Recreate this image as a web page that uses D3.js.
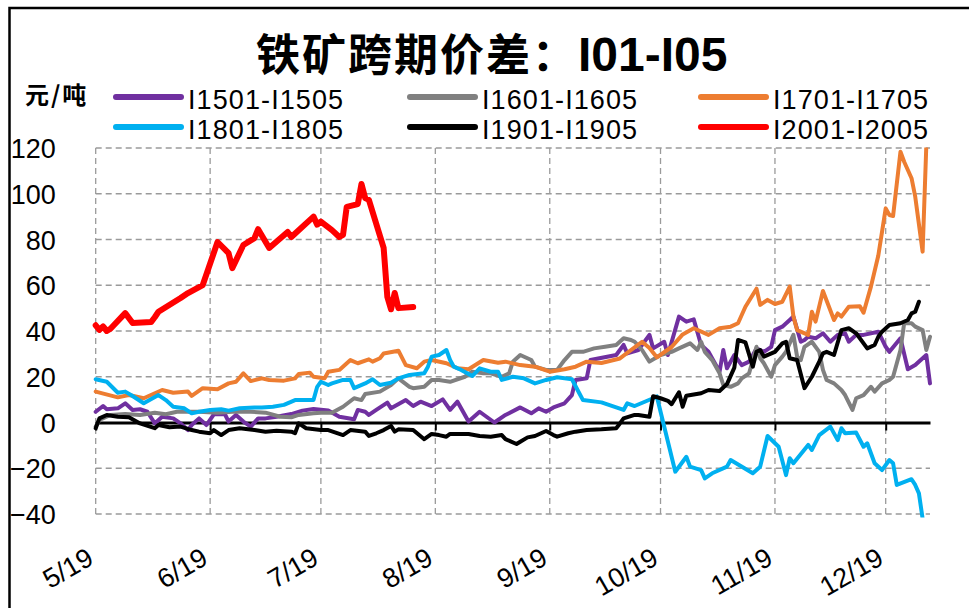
<!DOCTYPE html>
<html><head><meta charset="utf-8">
<script src="https://cdn.jsdelivr.net/npm/d3@7"></script>
<style>body{margin:0;background:#fff}svg{display:block}</style>
</head><body>
<svg id="chart" width="969" height="608"></svg>
<script>
// ---------- DATA ----------
const title = "铁矿跨期价差：";
const titleLatin = "I01-I05";
const unitLabel = "元/吨";
const seriesNames = ["I1501-I1505","I1601-I1605","I1701-I1705","I1801-I1805","I1901-I1905","I2001-I2005"];
const seriesColors = ["#7030A0","#808080","#ED7D31","#00B0F0","#000000","#FF0000"];
const yTicks = [-40,-20,0,20,40,60,80,100,120];
const xTickDates = ["05-19","06-19","07-19","08-19","09-19","10-19","11-19","12-19"];
const xTickLabels = ["5/19","6/19","7/19","8/19","9/19","10/19","11/19","12/19"];
const xStart = "05-19", xEnd = "12-31";

const s1501 = [["05-19",4.7],["05-21",7.2],["05-22",5.8],["05-25",6.2],["05-27",8.4],["05-29",5.5],["05-31",5.8],["06-02",4.7],["06-04",-0.4],["06-06",2.5],["06-09",1.8],["06-11",-0.4],["06-13",-3.3],["06-14",-1.1],["06-16",1.8],["06-18",-1.1],["06-20",3.6],["06-23",3.6],["06-24",0.4],["06-26",3.3],["06-28",0.4],["06-30",-1.8],["07-02",1.8],["07-04",1.8],["07-07",2.5],["07-11",3.7],["07-14",5.2],["07-17",5.9],["07-21",5.2],["07-24",2.5],["07-28",1.4],["07-29",5.5],["07-31",4.7],["08-01",3.3],["08-03",5.5],["08-06",8.7],["08-07",6.2],["08-11",9.8],["08-13",7.2],["08-15",9.1],["08-18",7.2],["08-21",10.1],["08-23",5.5],["08-25",9.1],["08-28",0.4],["08-31",4.7],["09-04",0],["09-07",3.3],["09-11",6.6],["09-14",4],["09-16",6.2],["09-18",4.7],["09-20",6.6],["09-23",8.4],["09-25",12],["09-26",18.6],["09-29",19.3],["09-30",27.3],["10-07",29.5],["10-09",33.9],["10-10",30.2],["10-13",31.7],["10-16",38.3],["10-17",32.4],["10-20",35.3],["10-21",29.5],["10-24",46.3],["10-26",44.1],["10-28",45.1],["10-30",33.9],["11-01",30.9],["11-04",22.2],["11-05",31.7],["11-06",23.7],["11-08",29.5],["11-10",25.1],["11-12",26.6],["11-14",32.4],["11-16",30.9],["11-18",33.1],["11-19",40.4],["11-21",41.9],["11-23",44.8],["11-24",46.3],["11-26",35.3],["11-27",36.1],["11-28",37.5],["11-30",36.8],["12-02",39],["12-04",35.3],["12-06",38.3],["12-08",39],["12-09",35.3],["12-11",38.3],["12-13",38.3],["12-17",39.7],["12-19",33.1],["12-20",30.9],["12-23",36.8],["12-25",23.3],["12-27",25.1],["12-30",29.5],["12-31",17.1]];

const s1601 = [["05-19",-1.8],["05-20",1.1],["05-23",3.3],["05-27",3.7],["05-31",3.3],["06-04",4.3],["06-07",3.6],["06-10",4.7],["06-16",4.7],["06-21",4.3],["06-25",4.7],["06-30",4.7],["07-04",4.3],["07-08",2.5],["07-11",2.3],["07-13",3.3],["07-17",4],["07-19",4.3],["07-22",4.3],["07-25",6.9],["07-28",10.6],["07-30",9.8],["07-31",12.5],["08-04",13.5],["08-07",16.4],["08-09",19.3],["08-12",15.6],["08-13",15],["08-16",15.6],["08-18",18.6],["08-20",18.6],["08-23",17.8],["08-27",20],["08-29",22.2],["09-01",21.5],["09-03",21.5],["09-06",20],["09-08",21.5],["09-09",26.6],["09-11",29.5],["09-14",27.3],["09-15",24.4],["09-18",23],["09-21",23],["09-23",27.3],["09-25",30.9],["09-28",30.9],["10-01",32.4],["10-04",33.1],["10-07",33.9],["10-09",36.8],["10-11",36.1],["10-12",35.3],["10-14",31.7],["10-16",26.6],["10-19",29.5],["10-22",30.9],["10-24",32.4],["10-27",34.6],["10-29",31.7],["10-30",35.3],["10-31",30.9],["11-02",27.3],["11-04",21.5],["11-05",16.4],["11-07",15.6],["11-09",17.1],["11-10",19.3],["11-12",21.5],["11-14",33.1],["11-15",28.1],["11-16",25.9],["11-18",20],["11-19",25.1],["11-21",28.8],["11-22",30.9],["11-24",38.3],["11-25",28.8],["11-26",27.3],["11-27",33.1],["11-29",35.3],["12-01",30.9],["12-02",23],["12-03",18.6],["12-05",17.1],["12-07",14.2],["12-08",12],["12-10",5.5],["12-11",10.6],["12-13",12],["12-15",15.6],["12-16",13.5],["12-18",17.1],["12-20",18.6],["12-21",20],["12-23",31.7],["12-24",43.4],["12-26",43.4],["12-27",41.9],["12-29",40.4],["12-30",31.7],["12-31",37.5]];

const s1701 = [["05-19",13.5],["05-25",11],["05-28",12],["06-01",10.6],["06-06",14.2],["06-09",13],["06-13",13.5],["06-14",11.6],["06-17",15],["06-21",14.5],["06-24",17.1],["06-26",17.8],["06-28",21.5],["06-30",18.1],["07-03",19.3],["07-05",18.6],["07-09",18.3],["07-12",19.3],["07-13",21.2],["07-16",21.8],["07-17",20],["07-20",19.3],["07-21",22.2],["07-24",23],["07-27",27.3],["07-29",25.9],["08-01",27.6],["08-02",26.6],["08-04",28.1],["08-05",30.2],["08-09",31.4],["08-11",25.1],["08-14",23.7],["08-16",26.6],["08-18",27.3],["08-22",25.9],["08-25",23.7],["08-28",23.3],["09-01",27.3],["09-05",26.1],["09-07",26.6],["09-11",25.1],["09-15",24.4],["09-19",22.2],["09-23",23.3],["09-26",24.4],["09-29",26.6],["10-03",26],["10-08",28],["10-14",35.3],["10-16",32.6],["10-18",28.5],["10-22",33],["10-25",38.5],["10-28",41.2],["11-01",38.3],["11-04",41.2],["11-07",41.9],["11-09",43.4],["11-11",50.6],["11-14",58.5],["11-15",51.4],["11-17",53.6],["11-19",51.8],["11-21",52.8],["11-23",59.4],["11-24",46.3],["11-25",40.4],["11-28",38.3],["11-29",48.4],["11-30",44.1],["12-02",57.5],["12-05",44.8],["12-06",47.7],["12-07",46.3],["12-09",50.6],["12-12",50.8],["12-13",48],["12-15",59.4],["12-17",73],["12-19",93.6],["12-20",90.7],["12-21",90.3],["12-23",118.4],["12-24",114],["12-26",106.8],["12-27",98.7],["12-29",74.7],["12-30",121]];

const s1801 = [["05-19",18.9],["05-22",17.8],["05-25",13],["05-27",13.5],["05-29",11.6],["06-01",8.4],["06-05",12],["06-07",9.8],["06-09",6.9],["06-12",6.2],["06-14",4],["06-16",4.7],["06-19",5.5],["06-22",5.8],["06-24",5.2],["06-27",6.2],["07-01",6.6],["07-03",6.6],["07-06",6.9],["07-09",7.7],["07-12",9.8],["07-17",9.8],["07-18",15.6],["07-19",17.8],["07-21",16.4],["07-22",17.1],["07-25",18.6],["07-27",18.6],["07-28",15],["07-31",17.1],["08-02",18.9],["08-04",16.4],["08-07",17.4],["08-09",19.3],["08-12",20.8],["08-16",21.5],["08-17",24.4],["08-18",28.8],["08-20",29.5],["08-22",31.7],["08-23",27.3],["08-24",24.4],["08-26",23],["08-29",20.3],["08-31",23.7],["09-03",22.2],["09-05",22.2],["09-06",18.6],["09-09",20],["09-12",19.3],["09-15",17.1],["09-18",18.6],["09-21",19.8],["09-25",18.9],["09-27",12.8],["09-28",9.8],["10-03",8.8],["10-09",5.5],["10-10",8.4],["10-12",7.2],["10-17",10.6],["10-18",11.4],["10-23",-21.5],["10-26",-15],["10-27",-19.3],["10-30",-20.8],["10-31",-24.4],["11-02",-22.2],["11-06",-19.3],["11-07",-16.4],["11-13",-22.2],["11-15",-19.3],["11-17",-5.9],["11-20",-10.6],["11-22",-23],["11-23",-15.6],["11-24",-17.8],["11-28",-9.8],["11-29",-12],["12-01",-5.5],["12-04",-1.8],["12-06",-7.7],["12-07",-2.5],["12-08",-4.7],["12-11",-4.4],["12-13",-10.6],["12-14",-9.1],["12-16",-17.8],["12-18",-20.8],["12-20",-16.4],["12-21",-17.8],["12-22",-27.3],["12-26",-24.8],["12-27",-27.3],["12-28",-31],["12-29",-42]];

const s1901 = [["05-19",-2.5],["05-20",1.8],["05-22",3.3],["05-25",2.5],["05-28",2.3],["05-31",-0.4],["06-04",-2.5],["06-05",-1.1],["06-08",-2.1],["06-11",-1.8],["06-14",-3.3],["06-16",-4],["06-19",-4.7],["06-20",-3.3],["06-22",-5.5],["06-24",-3.3],["06-27",-2.5],["07-01",-3.3],["07-04",-4],["07-07",-3.6],["07-11",-4],["07-12",-4.7],["07-13",-0.4],["07-15",-2.5],["07-19",-3.3],["07-21",-3.3],["07-25",-5.5],["07-27",-3.3],["07-31",-4],["08-01",-5.9],["08-03",-4.7],["08-05",-3.3],["08-07",-1.5],["08-08",-4],["08-09",-3],["08-13",-3.3],["08-16",-7.3],["08-18",-5],["08-20",-5.5],["08-22",-6.2],["08-23",-5],["08-28",-5],["08-31",-5.9],["09-03",-6.2],["09-06",-5.5],["09-07",-7.3],["09-10",-9.4],["09-11",-8.4],["09-13",-6.5],["09-15",-5.9],["09-18",-3.7],["09-20",-5.5],["09-21",-6.2],["09-24",-4.7],["09-26",-4],["09-29",-3.3],["10-03",-3],["10-07",-2.5],["10-08",-0.4],["10-09",1.8],["10-12",3.3],["10-13",3.3],["10-16",2.5],["10-17",11.5],["10-19",10.6],["10-21",9.5],["10-22",8],["10-24",13.2],["10-25",6.9],["10-26",11.7],["10-30",12.8],["11-01",14.2],["11-04",13.8],["11-06",16.8],["11-08",24],["11-09",36.1],["11-11",35],["11-13",24.4],["11-14",30.9],["11-15",31.7],["11-16",28.8],["11-19",30.9],["11-21",34.6],["11-22",35.3],["11-23",28.1],["11-25",27.3],["11-27",15],["11-29",20],["12-01",26.6],["12-02",30.2],["12-03",30.9],["12-05",29.5],["12-07",40.4],["12-09",41.2],["12-11",39],["12-14",32.4],["12-16",33.9],["12-17",37.5],["12-18",39.7],["12-20",42.6],["12-23",43.4],["12-25",44.8],["12-26",47.7],["12-27",48.4],["12-28",52.8]];

const s2001 = [["05-19",42.5],["05-20",40.5],["05-21",42],["05-22",40],["05-23",41],["05-27",47.8],["05-29",43.5],["06-03",43.9],["06-04",46],["06-05",48.4],["06-11",54.4],["06-13",56.6],["06-17",60.1],["06-21",78.9],["06-24",74],["06-25",67.5],["06-28",77.6],["07-01",80.6],["07-02",84.5],["07-05",76.3],["07-10",83.3],["07-11",81.1],["07-17",90],["07-18",86.5],["07-19",87.8],["07-22",84.1],["07-24",81.1],["07-25",82],["07-26",94.3],["07-29",95.5],["07-30",104.3],["07-31",98.1],["08-01",97.3],["08-05",76.3],["08-06",54.9],["08-07",49.5],["08-08",56.6],["08-09",50],["08-13",50.5]];

const allSeries = [s1501, s1601, s1701, s1801, s1901, s2001];

// ---------- DRAW ----------
const parse = d3.timeParse("%Y-%m-%d");
const toDate = s => parse("2019-" + s);
const svg = d3.select("#chart");
const narrow = "'Liberation Sans Narrow','Arial Narrow','Liberation Sans',Arial,sans-serif";
const latin = "'Liberation Sans',Arial,sans-serif";
const cjk = "'Noto Sans CJK SC','Noto Sans',sans-serif";

const x = d3.scaleTime().domain([toDate(xStart), toDate(xEnd)]).range([95.7, 930]);
const y = d3.scaleLinear().domain([-40, 120]).range([514, 148]);

// outer frame (top & left visible)
svg.append("path").attr("d", "M9.5,608 L9.5,8 L969,8")
  .attr("fill","none").attr("stroke","#000").attr("stroke-width",2.5);

// gridlines
const grid = svg.append("g");
grid.selectAll("line.h").data(yTicks.filter(v => v !== 0)).join("line")
  .attr("x1", x.range()[0]).attr("x2", x.range()[1])
  .attr("y1", d => y(d)).attr("y2", d => y(d))
  .attr("stroke","#9a9a9a").attr("stroke-width",1.3).attr("stroke-dasharray","6,4");
grid.selectAll("line.v").data(xTickDates).join("line")
  .attr("x1", d => x(toDate(d))).attr("x2", d => x(toDate(d)))
  .attr("y1", y(120)).attr("y2", y(-40))
  .attr("stroke","#9a9a9a").attr("stroke-width",1.3).attr("stroke-dasharray","6,4");

// y axis labels
const yAxis = svg.append("g").attr("transform", `translate(${x.range()[0]},0)`)
  .call(d3.axisLeft(y).tickValues(yTicks).tickSize(0).tickPadding(40).tickFormat(d => d < 0 ? "\u2212" + Math.abs(d) : d));
yAxis.select(".domain").remove();
yAxis.selectAll("text").attr("font-family", narrow).attr("font-size", 27).attr("fill","#000").attr("dy","0.36em");

// zero axis line with ticks
const zeroAxis = svg.append("g").attr("transform", `translate(0,${y(0)})`)
  .call(d3.axisBottom(x).tickValues(xTickDates.map(toDate)).tickSize(8).tickSizeOuter(0).tickFormat(""));
zeroAxis.select(".domain").attr("stroke","#000").attr("stroke-width",3);
zeroAxis.selectAll(".tick line").attr("stroke","#000").attr("stroke-width",2);

// bottom date labels
const xAxis = svg.append("g").attr("transform", `translate(0,548)`)
  .call(d3.axisBottom(x).tickValues(xTickDates.map(toDate)).tickSize(0)
    .tickFormat((d, i) => xTickLabels[i]));
xAxis.select(".domain").remove();
xAxis.selectAll("text")
  .attr("font-family", narrow).attr("font-size", 27).attr("fill","#000")
  .attr("x",0).attr("y",0).attr("dy",0)
  .attr("text-anchor","end")
  .attr("transform","translate(-1,15) rotate(-30)");

// clip for series
svg.append("clipPath").attr("id","plotclip").append("rect")
  .attr("x", 85).attr("y", 147.5).attr("width", 860).attr("height", 370);

const line = d3.line().x(d => x(toDate(d[0]))).y(d => y(d[1])).curve(d3.curveLinear);
const series = svg.append("g").attr("clip-path","url(#plotclip)");
series.selectAll("path").data(allSeries).join("path")
  .attr("d", line)
  .attr("fill","none")
  .attr("stroke", (d, i) => seriesColors[i])
  .attr("stroke-width", (d, i) => i === 5 ? 6 : 4)
  .attr("stroke-linejoin","round")
  .attr("stroke-linecap","round");

// title
const t = svg.append("text").attr("x", 256).attr("y", 71).attr("font-weight","bold").attr("fill","#000");
t.append("tspan").attr("font-family", cjk).attr("font-size", 44).attr("letter-spacing", 2).text(title);
t.append("tspan").attr("font-family", latin).attr("font-size", 48).text(titleLatin);

// unit label
svg.append("text").attr("x", 25).attr("y", 104).attr("font-family", cjk).attr("font-weight","bold")
  .attr("font-size", 24).attr("letter-spacing", 2).attr("fill","#000").text(unitLabel);

// legend
const legX = [116, 410, 701];
const legY = [97, 127];
const leg = svg.append("g").selectAll("g").data(seriesNames).join("g")
  .attr("transform", (d, i) => `translate(${legX[i % 3]},${legY[Math.floor(i / 3)]})`);
leg.append("line").attr("x1", 0).attr("x2", 65).attr("y1", 0).attr("y2", 0)
  .attr("stroke", (d, i) => seriesColors[i]).attr("stroke-width", 6).attr("stroke-linecap","round");
leg.append("text").attr("x", 72).attr("y", 11.5)
  .attr("font-family", latin).attr("font-size", 27).attr("letter-spacing", 1.1).attr("fill","#000")
  .text(d => d);
</script>
</body></html>
